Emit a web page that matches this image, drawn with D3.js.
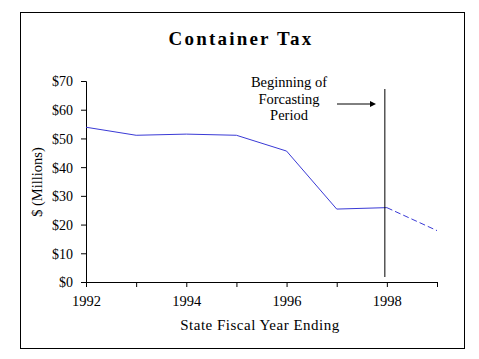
<!DOCTYPE html>
<html><head><meta charset="utf-8">
<script src="https://cdn.jsdelivr.net/npm/d3@7"></script>
<style>body{margin:0;background:#fff}svg{display:block}text{font-family:"Liberation Serif","Times New Roman",serif}</style>
</head><body>
<svg id="c" width="479" height="359"></svg>
<script>
const years = [1992, 1993, 1994, 1995, 1996, 1997, 1998, 1999];
const actual = [53.9, 51.1, 51.5, 51.1, 45.6, 25.4, 25.9, null];
const forecast = [null, null, null, null, null, null, 25.9, 17.9];
const yTicks = [0, 10, 20, 30, 40, 50, 60, 70];
const xTickLabels = [1992, 1994, 1996, 1998];
const forecastStart = 1997.96;
const title = "Container Tax";
const yTitle = "$ (Millions)";
const xTitle = "State Fiscal Year Ending";
const note = ["Beginning of", "Forcasting", "Period"];

const svg = d3.select("#c");
const x = d3.scaleLinear().domain([1992, 1999]).range([86, 437]);
const y = d3.scaleLinear().domain([0, 70]).range([282, 81]);

svg.append("rect").attr("x", 20.5).attr("y", 12.5).attr("width", 444).attr("height", 336)
  .attr("fill", "none").attr("stroke", "#000").attr("stroke-width", 1);

svg.append("text").attr("x", 241).attr("y", 45).attr("text-anchor", "middle")
  .attr("font-size", 19).attr("font-weight", "bold").attr("letter-spacing", 2.2).text(title);

const yAxis = d3.axisLeft(y).tickValues(yTicks).tickSize(5).tickFormat(d => "$" + d);
const gy = svg.append("g").attr("transform", "translate(86,0)").call(yAxis);
gy.selectAll("text").attr("font-size", 14).attr("font-family", '"Liberation Serif",serif').attr("x", -13).attr("dy", "0.35em");

const xAxis = d3.axisBottom(x).tickValues(years).tickSize(5).tickFormat(d => xTickLabels.includes(d) ? d : "");
const gx = svg.append("g").attr("transform", "translate(0,282)").call(xAxis);
gx.selectAll("text").attr("font-size", 14.5).attr("font-family", '"Liberation Serif",serif').attr("y", 14);
[gx, gy].forEach(g => { g.select(".domain").attr("stroke", "#000"); g.selectAll("line").attr("stroke", "#000"); });

svg.append("text").attr("transform", "translate(42,182) rotate(-90)").attr("text-anchor", "middle")
  .attr("font-size", 14.5).text(yTitle);
svg.append("text").attr("x", 260).attr("y", 330).attr("text-anchor", "middle")
  .attr("font-size", 15).attr("letter-spacing", 0.5).text(xTitle);

const line = d3.line().defined(d => d[1] != null).x(d => x(d[0])).y(d => y(d[1]));
svg.append("path").datum(years.map((yr, i) => [yr, actual[i]])).attr("d", line)
  .attr("fill", "none").attr("stroke", "#3a3ad6").attr("stroke-width", 1);
svg.append("path").datum(years.map((yr, i) => [yr, forecast[i]])).attr("d", line)
  .attr("fill", "none").attr("stroke", "#3a3ad6").attr("stroke-width", 1).attr("stroke-dasharray", "6,3");

svg.append("line").attr("x1", x(forecastStart)).attr("x2", x(forecastStart)).attr("y1", 89).attr("y2", 277)
  .attr("stroke", "#000").attr("stroke-width", 1);

note.forEach((t, i) => svg.append("text").attr("x", 289).attr("y", 87 + i * 16.5)
  .attr("text-anchor", "middle").attr("font-size", 14.5).text(t));

svg.append("line").attr("x1", 337).attr("x2", 371).attr("y1", 104).attr("y2", 104).attr("stroke", "#000");
svg.append("path").attr("d", "M370,101 L376,104 L370,107 Z").attr("fill", "#000");
</script>
</body></html>
